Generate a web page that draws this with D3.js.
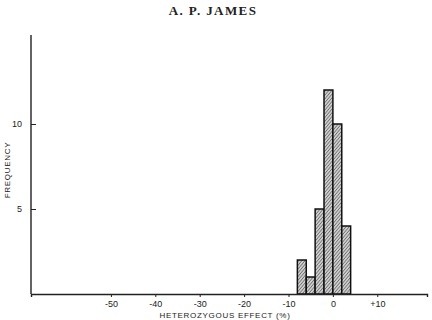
<!DOCTYPE html>
<html>
<head>
<meta charset="utf-8">
<script src="https://cdn.jsdelivr.net/npm/d3@7"></script>
<style>
  body { margin: 0; background: #fff; }
  svg { display: block; }
  .tick text { font-family: "Liberation Sans", Arial, sans-serif; font-size: 9px; fill: #222; }
  .axis-title { font-family: "Liberation Sans", Arial, sans-serif; font-size: 8px; fill: #222; letter-spacing: 0.7px; }
</style>
</head>
<body>
<div id="chart"></div>
<script>
// histogram bins: left edge of each 2% bin and its count
const binStarts = [-8, -6, -4, -2, 0, 2];
const counts = [2, 1, 5, 12, 10, 4];
const binWidth = 2;
const xTicks = [-50, -40, -30, -20, -10, 0, 10];
const yTicks = [5, 10];

const width = 432, height = 320;
const margin = { top: 35, right: 5, bottom: 26, left: 31 };

const svg = d3.select("#chart").append("svg")
  .attr("width", width).attr("height", height);

const defs = svg.append("defs");
const pat = defs.append("pattern")
  .attr("id", "hatch")
  .attr("patternUnits", "userSpaceOnUse")
  .attr("width", 2.4).attr("height", 2.4)
  .attr("patternTransform", "rotate(40)");
pat.append("rect").attr("width", 2.4).attr("height", 2.4).attr("fill", "#cfcfcf");
pat.append("line").attr("x1", 0).attr("y1", 0).attr("x2", 0).attr("y2", 2.4)
  .attr("stroke", "#333").attr("stroke-width", 1);

// 0 sits near x=333, 10 units ~ 44.5px
const x = d3.scaleLinear().domain([-68, 21.2]).range([margin.left, width - margin.right]);
const y = d3.scaleLinear().domain([0, 15]).range([height - margin.bottom, height - margin.bottom - 15 * 17]);

svg.append("text")
  .attr("x", 213).attr("y", 15)
  .attr("text-anchor", "middle")
  .attr("font-family", "'Liberation Serif', 'Times New Roman', serif")
  .attr("font-weight", "bold")
  .attr("font-size", 13)
  .attr("letter-spacing", 1.4)
  .attr("fill", "#222")
  .text("A. P. JAMES");

svg.append("g")
  .selectAll("rect")
  .data(binStarts)
  .join("rect")
  .attr("x", (d) => x(d))
  .attr("y", (d, i) => y(counts[i]))
  .attr("width", (d) => x(d + binWidth) - x(d))
  .attr("height", (d, i) => y(0) - y(counts[i]))
  .attr("fill", "url(#hatch)")
  .attr("stroke", "#111")
  .attr("stroke-width", 1.5);

// x axis
const xAxis = svg.append("g")
  .attr("transform", `translate(0,${y(0)})`)
  .call(d3.axisBottom(x).tickValues(xTicks).tickSize(3).tickPadding(4)
    .tickFormat((d) => d > 0 ? "+" + d : d < 0 ? "-" + Math.abs(d) : "0"));
xAxis.select(".domain").attr("stroke", "#222").attr("stroke-width", 1.4);
xAxis.selectAll(".tick line").attr("stroke", "#222");

// y axis
const yAxis = svg.append("g")
  .attr("transform", `translate(${x.range()[0]},0)`)
  .call(d3.axisLeft(y).tickValues(yTicks).tickSize(-5).tickPadding(3));
yAxis.select(".domain").attr("d", `M0,${y(0)}V${margin.top}`)
  .attr("stroke", "#222").attr("stroke-width", 1.4);
yAxis.selectAll(".tick line").attr("stroke", "#222");
yAxis.selectAll(".tick text").attr("x", -9);

svg.append("text")
  .attr("class", "axis-title")
  .attr("transform", `translate(10,170) rotate(-90)`)
  .attr("text-anchor", "middle")
  .text("FREQUENCY");

svg.append("text")
  .attr("class", "axis-title")
  .attr("x", 225).attr("y", 318)
  .attr("text-anchor", "middle")
  .text("HETEROZYGOUS EFFECT (%)");
</script>
</body>
</html>
